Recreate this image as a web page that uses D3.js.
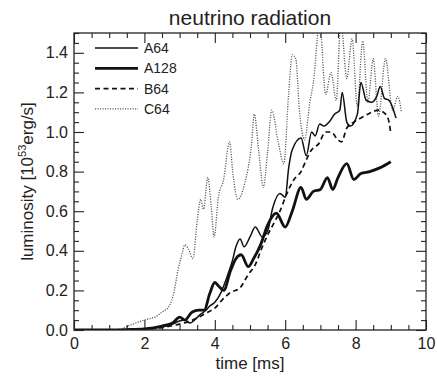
<!DOCTYPE html>
<html>
<head>
<meta charset="utf-8">
<script src="https://cdn.jsdelivr.net/npm/d3@7"></script>
<style>
  body { margin: 0; background: #fff; }
  text { font-family: "Liberation Sans", Arial, sans-serif; fill: #222; }
</style>
</head>
<body>
<script>
// luminosity curves [time ms, 10^53 erg/s]
const a64 = [[0,0],[1.0,0],[1.5,0.002],[2.0,0.006],[2.5,0.015],[2.8,0.03],[3.0,0.045],[3.15,0.05],[3.3,0.035],[3.45,0.055],[3.6,0.08],[3.75,0.1],[3.85,0.12],[4.0,0.14],[4.15,0.18],[4.35,0.27],[4.5,0.35],[4.6,0.42],[4.72,0.46],[4.83,0.42],[5.0,0.47],[5.15,0.52],[5.35,0.47],[5.5,0.5],[5.65,0.62],[5.85,0.69],[6.0,0.67],[6.1,0.82],[6.2,0.91],[6.45,0.97],[6.6,0.88],[6.75,1.0],[6.85,0.98],[6.98,1.04],[7.1,1.03],[7.25,1.05],[7.4,1.09],[7.55,1.11],[7.62,1.2],[7.75,1.05],[7.85,1.03],[8.05,1.09],[8.15,1.25],[8.3,1.16],[8.45,1.15],[8.6,1.18],[8.7,1.23],[8.82,1.17],[8.95,1.16],[9.15,1.07]];
const a128 = [[0,0],[1.0,0],[1.5,0.002],[2.0,0.006],[2.5,0.02],[2.8,0.035],[3.0,0.065],[3.15,0.05],[3.35,0.09],[3.55,0.1],[3.7,0.1],[3.85,0.18],[4.0,0.24],[4.12,0.22],[4.25,0.2],[4.45,0.3],[4.6,0.36],[4.75,0.38],[4.95,0.32],[5.1,0.36],[5.3,0.43],[5.5,0.53],[5.75,0.59],[6.0,0.52],[6.2,0.6],[6.45,0.72],[6.6,0.66],[6.8,0.7],[7.0,0.71],[7.2,0.77],[7.35,0.71],[7.5,0.77],[7.75,0.84],[7.95,0.76],[8.15,0.79],[8.4,0.8],[8.7,0.82],[9.0,0.85]];
const b64 = [[0,0],[1.0,0],[1.5,0.001],[2.0,0.004],[2.5,0.012],[3.0,0.03],[3.3,0.045],[3.6,0.07],[3.8,0.09],[4.0,0.11],[4.2,0.15],[4.45,0.19],[4.7,0.21],[4.95,0.28],[5.15,0.33],[5.35,0.42],[5.5,0.48],[5.65,0.53],[5.85,0.6],[6.05,0.69],[6.25,0.76],[6.45,0.8],[6.6,0.86],[6.75,0.91],[6.95,0.94],[7.15,1.0],[7.3,1.0],[7.5,0.96],[7.6,0.95],[7.75,1.02],[7.95,1.05],[8.25,1.08],[8.45,1.1],[8.65,1.11],[8.85,1.09],[8.95,1.05],[9.0,0.99]];
const c64 = [[0,0],[1.0,0],[1.25,0.002],[1.6,0.025],[2.0,0.05],[2.2,0.06],[2.3,0.065],[2.5,0.09],[2.7,0.12],[2.85,0.2],[2.95,0.3],[3.05,0.37],[3.15,0.43],[3.25,0.41],[3.38,0.36],[3.5,0.55],[3.6,0.66],[3.68,0.61],[3.8,0.77],[3.9,0.62],[3.98,0.47],[4.1,0.67],[4.25,0.76],[4.42,0.95],[4.52,0.78],[4.65,0.66],[4.85,0.74],[5.05,0.95],[5.12,1.09],[5.25,0.9],[5.38,0.72],[5.5,0.9],[5.62,1.11],[5.8,0.95],[5.96,0.84],[6.1,1.2],[6.2,1.39],[6.3,1.37],[6.4,1.12],[6.55,0.96],[6.7,1.15],[6.8,1.25],[6.98,1.55],[7.15,1.19],[7.3,1.3],[7.45,1.16],[7.58,1.56],[7.75,1.27],[7.9,1.47],[8.05,1.13],[8.2,1.46],[8.35,1.15],[8.5,1.37],[8.65,1.08],[8.85,1.37],[9.05,1.11],[9.2,1.18],[9.3,1.1]];

const xMajor = [0, 2, 4, 6, 8, 10];
const yMajor = [0, 0.2, 0.4, 0.6, 0.8, 1.0, 1.2, 1.4];
const legendNames = ["A64", "A128", "B64", "C64"];

const width = 437, height = 376;
const margin = {top: 33, right: 11, bottom: 46, left: 74};
const iw = width - margin.left - margin.right;
const ih = height - margin.top - margin.bottom;

let svg = d3.select('body').append('svg').attr('width', width).attr('height', height);

let x = d3.scaleLinear().domain([0, 10]).range([0, iw]);
let y = d3.scaleLinear().domain([0, 1.5]).range([ih, 0]);

let g = svg.append('g').attr('transform', `translate(${margin.left},${margin.top})`);

svg.append('defs').append('clipPath').attr('id', 'clip')
  .append('rect').attr('width', iw).attr('height', ih);

// series styles
const styles = [
  {data: c64, width: 1.3, dash: '1.1,1.4', color: '#555'},
  {data: b64, width: 1.7, dash: '5,3.5', color: '#111'},
  {data: a64, width: 1.5, dash: null, color: '#111'},
  {data: a128, width: 2.8, dash: null, color: '#111'}
];

let line = d3.line().x(d => x(d[0])).y(d => y(d[1])).curve(d3.curveMonotoneX);

let lines = g.append('g').attr('clip-path', 'url(#clip)');
styles.forEach(s => {
  lines.append('path')
    .attr('d', line(s.data))
    .attr('fill', 'none')
    .attr('stroke', s.color)
    .attr('stroke-width', s.width)
    .attr('stroke-dasharray', s.dash)
    .attr('stroke-linejoin', 'round');
});

// axes, ticks pointing inward on all four sides
const xMinor = d3.range(0, 10.01, 0.5).filter(v => !xMajor.includes(v));
const yMinor = d3.range(0, 1.501, 0.05).map(v => +v.toFixed(2)).filter(v => !yMajor.some(m => Math.abs(m - v) < 1e-6));

function styleAxis(sel) {
  sel.select('.domain').remove();
  sel.selectAll('line').attr('stroke', '#222').attr('stroke-width', 1.1);
  sel.selectAll('text').attr('font-size', 16).attr('fill', '#222')
    .attr('font-family', '"Liberation Sans", Arial, sans-serif');
}

g.append('g').attr('transform', `translate(0,${ih})`)
  .call(d3.axisBottom(x).tickValues(xMajor).tickSize(-10).tickPadding(8).tickFormat(d3.format('d')))
  .call(styleAxis);
g.append('g').attr('transform', `translate(0,${ih})`)
  .call(d3.axisBottom(x).tickValues(xMinor).tickSize(-5).tickFormat(''))
  .call(styleAxis);
g.append('g')
  .call(d3.axisTop(x).tickValues(xMajor).tickSize(-10).tickFormat(''))
  .call(styleAxis);
g.append('g')
  .call(d3.axisTop(x).tickValues(xMinor).tickSize(-5).tickFormat(''))
  .call(styleAxis);

g.append('g')
  .call(d3.axisLeft(y).tickValues(yMajor).tickSize(-10).tickPadding(6).tickFormat(d3.format('.1f')))
  .call(styleAxis);
g.append('g')
  .call(d3.axisLeft(y).tickValues(yMinor).tickSize(-5).tickFormat(''))
  .call(styleAxis);
g.append('g').attr('transform', `translate(${iw},0)`)
  .call(d3.axisRight(y).tickValues(yMajor).tickSize(-10).tickFormat(''))
  .call(styleAxis);
g.append('g').attr('transform', `translate(${iw},0)`)
  .call(d3.axisRight(y).tickValues(yMinor).tickSize(-5).tickFormat(''))
  .call(styleAxis);

// frame
g.append('rect').attr('width', iw).attr('height', ih)
  .attr('fill', 'none').attr('stroke', '#222').attr('stroke-width', 1.3);

// title and labels
svg.append('text').attr('x', margin.left + iw / 2).attr('y', 25)
  .attr('text-anchor', 'middle').attr('font-size', 21).text('neutrino radiation');

svg.append('text').attr('x', margin.left + iw / 2).attr('y', 369)
  .attr('text-anchor', 'middle').attr('font-size', 17).text('time [ms]');

let yl = svg.append('text')
  .attr('transform', `translate(33,${margin.top + ih / 2}) rotate(-90)`)
  .attr('text-anchor', 'middle').attr('font-size', 17);
yl.append('tspan').text('luminosity [10');
yl.append('tspan').attr('font-size', 11).attr('dy', -7).text('53');
yl.append('tspan').attr('dy', 7).text('erg/s]');

// legend
const legendStyles = [styles[2], styles[3], styles[1], styles[0]];
let legend = g.append('g').attr('transform', 'translate(21,15)');
legendNames.forEach((name, i) => {
  let s = legendStyles[i];
  let row = legend.append('g').attr('transform', `translate(0,${i * 20.3})`);
  row.append('line').attr('x1', 0).attr('x2', 43)
    .attr('stroke', s.color).attr('stroke-width', s.width)
    .attr('stroke-dasharray', s.dash);
  row.append('text').attr('x', 49).attr('y', 5).attr('font-size', 14).text(name);
});
</script>
</body>
</html>
